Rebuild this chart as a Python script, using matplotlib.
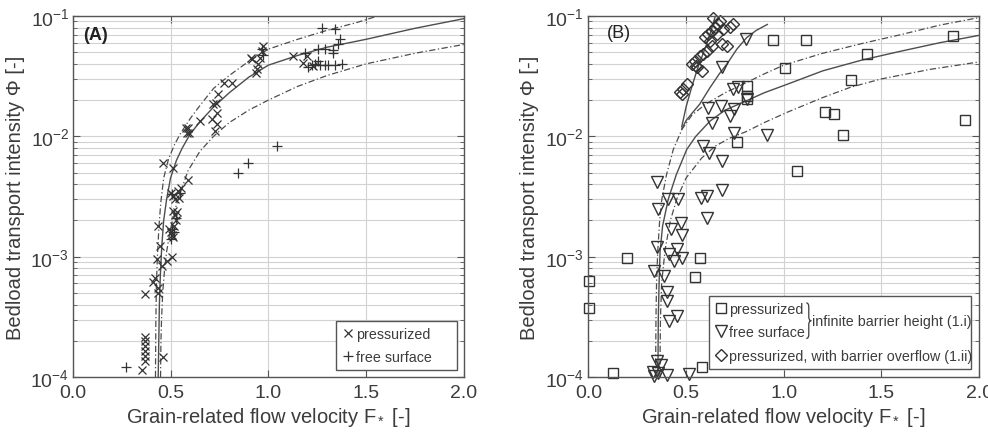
import numpy as np
import matplotlib
matplotlib.use('agg')
import matplotlib.pyplot as plt
from matplotlib.path import Path
from matplotlib.patches import PathPatch
from matplotlib.ticker import LogLocator, NullFormatter

plt.rcParams['font.family'] = ['Liberation Sans', 'DejaVu Sans']
plt.rcParams['mathtext.fontset'] = 'custom'
plt.rcParams['mathtext.rm'] = 'Liberation Sans'
plt.rcParams['mathtext.it'] = 'Liberation Sans:italic'
plt.rcParams['mathtext.bf'] = 'Liberation Sans:bold'
plt.rcParams['mathtext.default'] = 'regular'

TXT = '#3c3c3c'
EDGE = '#555555'
MK = '#333333'
LN = '#4d4d4d'
GRID = '#d2d2d2'
DASHDOT = (0, (5, 2, 1, 2))

# ---- panel A: measured points ----
A_press_F = [0.353, 0.370, 0.370, 0.372, 0.370, 0.372, 0.370, 0.463, 0.368, 0.412,
             0.420, 0.438, 0.438, 0.455, 0.429, 0.506, 0.480, 0.446, 0.438, 0.508,
             0.500, 0.515, 0.490, 0.520, 0.523, 0.530, 0.515, 0.535, 0.500, 0.515,
             0.525, 0.540, 0.545, 0.555, 0.590, 0.463, 0.514, 0.596, 0.590, 0.651,
             0.710, 0.736, 0.727, 0.719, 0.733, 0.744, 0.736, 0.773, 0.813, 0.915,
             0.957, 0.974, 0.940, 0.949, 0.966, 0.937, 0.911, 1.128, 1.175, 1.196,
             1.230, 0.578, 0.583]
A_press_phi = [1.14e-4, 2.16e-4, 1.98e-4, 1.81e-4, 1.64e-4, 1.49e-4, 1.37e-4, 1.46e-4, 4.9e-4, 6.2e-4,
               6.7e-4, 5.5e-4, 5.0e-4, 8.4e-4, 9.5e-4, 1.0e-3, 9.2e-4, 1.22e-3, 1.8e-3, 1.5e-3,
               1.6e-3, 1.45e-3, 1.7e-3, 1.8e-3, 2.2e-3, 2.0e-3, 2.4e-3, 2.35e-3, 3.4e-3, 3.2e-3,
               3.0e-3, 3.5e-3, 3.1e-3, 3.7e-3, 4.3e-3, 6.0e-3, 5.5e-3, 1.07e-2, 1.18e-2, 1.34e-2,
               1.38e-2, 1.26e-2, 1.1e-2, 1.84e-2, 1.9e-2, 2.23e-2, 1.57e-2, 2.79e-2, 2.79e-2, 4.36e-2,
               4.5e-2, 5.64e-2, 3.6e-2, 3.97e-2, 5.1e-2, 3.38e-2, 4.5e-2, 4.66e-2, 4.1e-2, 4.66e-2,
               3.84e-2, 1.17e-2, 1.07e-2]

A_free_F = [0.273, 0.847, 0.898, 1.043, 0.970, 0.975, 1.273, 1.341, 1.366, 1.358,
            1.332, 1.187, 1.256, 1.290, 1.332, 1.256, 1.204, 1.239, 1.264, 1.290,
            1.307, 1.341, 1.375, 1.225, 0.510, 0.520, 0.530, 0.500, 0.505, 0.550]
A_free_phi = [1.2e-4, 5.0e-3, 6.0e-3, 8.3e-3, 5.3e-2, 4.7e-2, 8.0e-2, 7.8e-2, 6.4e-2, 5.8e-2,
              4.97e-2, 4.96e-2, 5.3e-2, 5.3e-2, 5.2e-2, 4.2e-2, 3.8e-2, 4.0e-2, 3.9e-2, 3.95e-2,
              3.9e-2, 3.9e-2, 4.0e-2, 3.95e-2, 3.3e-3, 1.6e-3, 2.1e-3, 1.4e-3, 1.7e-3, 3.4e-3]

# ---- panel A: fitted relation with bounds ----
A_fit_F = [0.437, 0.440, 0.443, 0.448, 0.455, 0.465, 0.480, 0.500, 0.530, 0.560, 0.600,
           0.650, 0.720, 0.800, 0.900, 1.000, 1.150, 1.300, 1.500, 1.750, 2.000]
A_fit_phi = [1.0e-4, 2.0e-4, 4.0e-4, 7.0e-4, 1.2e-3, 2.0e-3, 3.0e-3, 4.5e-3, 6.3e-3, 8.0e-3, 1.04e-2,
             1.32e-2, 1.75e-2, 2.3e-2, 3.1e-2, 3.9e-2, 4.7e-2, 5.5e-2, 6.4e-2, 7.9e-2, 9.5e-2]
A_up_F = [0.423, 0.425, 0.428, 0.433, 0.440, 0.450, 0.465, 0.490, 0.520, 0.550, 0.600,
          0.650, 0.720, 0.800, 0.900, 1.000, 1.150, 1.300, 1.450, 1.560]
A_up_phi = [1.0e-4, 3.0e-4, 6.0e-4, 1.0e-3, 1.7e-3, 2.8e-3, 4.5e-3, 6.5e-3, 8.5e-3, 1.05e-2, 1.4e-2,
            1.8e-2, 2.5e-2, 3.2e-2, 4.2e-2, 5.3e-2, 6.4e-2, 7.6e-2, 8.8e-2, 1.0e-1]
A_lo_F = [0.449, 0.451, 0.454, 0.460, 0.470, 0.480, 0.500, 0.530, 0.560, 0.590, 0.650,
          0.720, 0.800, 0.900, 1.000, 1.150, 1.300, 1.500, 1.750, 2.000]
A_lo_phi = [1.0e-4, 2.0e-4, 3.0e-4, 5.0e-4, 8.0e-4, 1.1e-3, 1.7e-3, 2.7e-3, 3.8e-3, 5.2e-3, 7.5e-3,
            1.0e-2, 1.3e-2, 1.65e-2, 2.0e-2, 2.6e-2, 3.2e-2, 4.0e-2, 4.9e-2, 5.8e-2]

# ---- panel B: measured points ----
B_press_F = [0.003, 0.003, 0.128, 0.200, 0.570, 0.546, 0.584, 0.947, 1.116, 1.007,
             1.428, 1.346, 1.210, 1.258, 1.305, 1.070, 1.867, 1.927, 0.763, 0.811,
             0.814, 0.811]
B_press_phi = [6.3e-4, 3.77e-4, 1.07e-4, 9.8e-4, 9.8e-4, 6.8e-4, 1.2e-4, 6.28e-2, 6.28e-2, 3.67e-2,
               4.87e-2, 2.92e-2, 1.59e-2, 1.52e-2, 1.02e-2, 5.15e-3, 6.8e-2, 1.37e-2, 8.98e-3, 2.64e-2,
               2.18e-2, 2.04e-2]

B_free_F = [0.805, 0.683, 0.742, 0.768, 0.614, 0.677, 0.635, 0.724, 0.746, 0.746,
            0.916, 0.810, 0.587, 0.618, 0.686, 0.350, 0.357, 0.408, 0.461, 0.575,
            0.609, 0.683, 0.609, 0.473, 0.422, 0.481, 0.353, 0.456, 0.413, 0.439,
            0.478, 0.338, 0.387, 0.401, 0.404, 0.456, 0.413, 0.353, 0.370, 0.336,
            0.404, 0.515, 0.358, 0.333]
B_free_phi = [6.48e-2, 3.77e-2, 2.49e-2, 2.59e-2, 1.73e-2, 1.8e-2, 1.3e-2, 1.48e-2, 1.68e-2, 1.07e-2,
              1.02e-2, 2.04e-2, 8.3e-3, 7.3e-3, 6.2e-3, 4.2e-3, 2.5e-3, 3.0e-3, 3.0e-3, 3.1e-3,
              3.2e-3, 3.6e-3, 2.1e-3, 1.9e-3, 1.7e-3, 1.5e-3, 1.2e-3, 1.15e-3, 1.05e-3, 9.2e-4,
              9.8e-4, 7.6e-4, 6.9e-4, 5.1e-4, 4.3e-4, 3.2e-4, 2.9e-4, 1.36e-4, 1.27e-4, 1.02e-4,
              1.04e-4, 1.05e-4, 1.07e-4, 1.1e-4]

B_ovf_F = [0.469, 0.486, 0.504, 0.529, 0.546, 0.572, 0.589, 0.606, 0.614, 0.632,
           0.649, 0.665, 0.674, 0.691, 0.725, 0.742, 0.683, 0.708, 0.597, 0.623,
           0.555, 0.580, 0.640, 0.657, 0.632, 0.478, 0.549]
B_ovf_phi = [2.32e-2, 2.47e-2, 2.72e-2, 3.99e-2, 4.25e-2, 4.68e-2, 4.83e-2, 5.15e-2, 7.09e-2, 7.55e-2,
             8.05e-2, 8.6e-2, 9.14e-2, 7.8e-2, 8.05e-2, 8.6e-2, 5.85e-2, 5.66e-2, 6.65e-2, 6.24e-2,
             3.74e-2, 3.5e-2, 9.7e-2, 7.1e-2, 5.66e-2, 2.23e-2, 3.84e-2]

# ---- panel B: fitted relations ----
B_fit_F = [0.356, 0.358, 0.362, 0.367, 0.380, 0.409, 0.450, 0.504, 0.550, 0.623, 0.700,
           0.811, 0.900, 1.016, 1.200, 1.400, 1.600, 1.800, 2.000]
B_fit_phi = [1.0e-4, 3.0e-4, 6.0e-4, 1.1e-3, 1.8e-3, 3.0e-3, 4.8e-3, 7.8e-3, 1.0e-2, 1.34e-2, 1.65e-2,
             1.98e-2, 2.3e-2, 2.7e-2, 3.5e-2, 4.3e-2, 5.1e-2, 6.0e-2, 6.9e-2]
B_up_F = [0.344, 0.346, 0.349, 0.355, 0.365, 0.376, 0.400, 0.435, 0.480, 0.530, 0.600,
          0.700, 0.800, 0.900, 1.000, 1.200, 1.400, 1.600, 1.800, 2.000]
B_up_phi = [1.0e-4, 3.0e-4, 6.0e-4, 1.1e-3, 2.0e-3, 3.0e-3, 4.8e-3, 7.8e-3, 1.15e-2, 1.5e-2, 1.85e-2,
            2.3e-2, 2.75e-2, 3.3e-2, 3.9e-2, 4.9e-2, 5.9e-2, 7.0e-2, 8.4e-2, 9.7e-2]
B_lo_F = [0.366, 0.369, 0.375, 0.393, 0.420, 0.452, 0.500, 0.580, 0.650, 0.720, 0.811,
          0.900, 1.016, 1.200, 1.340, 1.500, 1.750, 2.000]
B_lo_phi = [1.0e-4, 3.0e-4, 6.0e-4, 1.15e-3, 2.0e-3, 3.0e-3, 4.5e-3, 6.6e-3, 8.3e-3, 9.6e-3, 1.1e-2,
            1.3e-2, 1.58e-2, 2.1e-2, 2.55e-2, 3.0e-2, 3.6e-2, 4.15e-2]
B_ovf_left_F = [0.478, 0.500, 0.530, 0.560, 0.590, 0.620, 0.650]
B_ovf_left_phi = [1.2e-2, 1.75e-2, 2.6e-2, 3.7e-2, 5.0e-2, 6.8e-2, 1.0e-1]
B_ovf_right_F = [0.478, 0.500, 0.530, 0.570, 0.620, 0.670, 0.710, 0.760, 0.810, 0.860, 0.916]
B_ovf_right_phi = [1.15e-2, 1.35e-2, 1.55e-2, 1.85e-2, 2.5e-2, 3.3e-2, 4.0e-2, 5.3e-2, 6.6e-2, 7.6e-2, 8.5e-2]


def style_axes(ax, ytick_pad):
    ax.set_yscale('log')
    ax.set_xlim(0, 2)
    ax.set_ylim(1e-4, 1e-1)
    ax.set_xticks([0, 0.5, 1.0, 1.5, 2.0])
    ax.set_xticklabels(['0.0', '0.5', '1.0', '1.5', '2.0'])
    ax.yaxis.set_major_locator(LogLocator(base=10, numticks=10))
    ax.yaxis.set_minor_locator(LogLocator(base=10, subs=np.arange(2, 10), numticks=10))
    ax.yaxis.set_minor_formatter(NullFormatter())
    ax.grid(True, which='major', color=GRID, lw=0.8)
    ax.grid(True, which='minor', axis='y', color=GRID, lw=0.8)
    ax.set_axisbelow(True)
    ax.tick_params(which='both', direction='in', top=True, right=True,
                   color=EDGE, labelcolor=TXT, labelsize=14)
    ax.tick_params(which='major', length=5, width=0.8)
    ax.tick_params(which='minor', length=3, width=0.6)
    ax.tick_params(axis='x', pad=5)
    ax.tick_params(axis='y', pad=ytick_pad)
    for s in ax.spines.values():
        s.set_color(EDGE)
        s.set_linewidth(1.0)
    ax.set_xlabel(r'Grain-related flow velocity F$_*$ [-]', fontsize=14.5, color=TXT, labelpad=3)
    ax.set_ylabel('Bedload transport intensity Φ [-]', fontsize=14.5, color=TXT, labelpad=4)


def legend_box(ax, handles, bbox):
    leg = ax.legend(handles=handles, loc='lower left', bbox_to_anchor=bbox, mode='expand',
                    borderaxespad=0, fontsize=10.3, fancybox=False, edgecolor=EDGE,
                    framealpha=1, handlelength=0.8, handletextpad=0.2, borderpad=0.42,
                    labelspacing=0.67, labelcolor=TXT)
    leg.get_frame().set_linewidth(1.0)
    return leg


fig = plt.figure(figsize=(9.88, 4.35), dpi=100)
axA = fig.add_axes([0.0736, 0.131, 0.396, 0.830])
axB = fig.add_axes([0.5955, 0.131, 0.3955, 0.830])

# panel A
style_axes(axA, 2.5)
axA.plot(A_up_F, A_up_phi, color=LN, lw=0.9, ls=DASHDOT)
axA.plot(A_lo_F, A_lo_phi, color=LN, lw=0.9, ls=DASHDOT)
axA.plot(A_fit_F, A_fit_phi, color=LN, lw=1.0)
hA1, = axA.plot(A_press_F, A_press_phi, ls='none', marker='x', ms=6, mew=0.9,
                color=MK, label='pressurized', clip_on=False)
hA2, = axA.plot(A_free_F, A_free_phi, ls='none', marker='+', ms=7.5, mew=0.9,
                color=MK, label='free surface', clip_on=False)
legend_box(axA, [hA1, hA2], (0.673, 0.019, 0.309, 0.153))
axA.text(0.026, 0.95, '(A)', transform=axA.transAxes, fontsize=13, fontweight='bold',
         color='#222222', ha='left', va='center')

# panel B
style_axes(axB, 3.5)
axB.plot(B_up_F, B_up_phi, color=LN, lw=0.9, ls=DASHDOT)
axB.plot(B_lo_F, B_lo_phi, color=LN, lw=0.9, ls=DASHDOT)
axB.plot(B_fit_F, B_fit_phi, color=LN, lw=1.0)
axB.plot(B_ovf_left_F, B_ovf_left_phi, color=LN, lw=1.0)
axB.plot(B_ovf_right_F, B_ovf_right_phi, color=LN, lw=1.0)
hB1, = axB.plot(B_press_F, B_press_phi, ls='none', marker='s', ms=7, mew=1.0, mfc='none',
                color=MK, label='pressurized', clip_on=False)
hB2, = axB.plot(B_free_F, B_free_phi, ls='none', marker='v', ms=8, mew=1.0, mfc='none',
                color=MK, label='free surface', clip_on=False)
hB3, = axB.plot(B_ovf_F, B_ovf_phi, ls='none', marker='D', ms=6.5, mew=1.0, mfc='none',
                color=MK, label='pressurized, with barrier overflow (1.ii)', clip_on=False)
legB = legend_box(axB, [hB1, hB2, hB3], (0.309, 0.022, 0.6705, 0.22))
axB.text(0.048, 0.955, '(B)', transform=axB.transAxes, fontsize=13,
         color='#222222', ha='left', va='center')

# brace grouping the first two legend rows
fig.canvas.draw()
renderer = fig.canvas.get_renderer()
bb0 = legB.get_texts()[0].get_window_extent(renderer)
bb1 = legB.get_texts()[1].get_window_extent(renderer)
xb = max(bb0.x1, bb1.x1) + 1
yt = bb0.y1 - 1
yb = bb1.y0 + 1
ym = 0.5 * (yt + yb)
w, r = 5.0, 4.0
xm, xt = xb + w * 0.5, xb + w
verts = [(xb, yt), (xm, yt), (xm, yt - r), (xm, ym + r), (xm, ym), (xt, ym),
         (xm, ym), (xm, ym - r), (xm, yb + r), (xm, yb), (xb, yb)]
codes = [Path.MOVETO, Path.CURVE3, Path.CURVE3, Path.LINETO, Path.CURVE3, Path.CURVE3,
         Path.CURVE3, Path.CURVE3, Path.LINETO, Path.CURVE3, Path.CURVE3]
to_axes = axB.transAxes.inverted()
brace = PathPatch(Path(to_axes.transform(verts), codes), transform=axB.transAxes,
                  fill=False, edgecolor=TXT, lw=0.9, clip_on=False, zorder=6)
axB.add_patch(brace)
tx, ty = to_axes.transform((xt + 1, ym))
axB.text(tx, ty, 'infinite barrier height (1.i)', transform=axB.transAxes, fontsize=10.3,
         color=TXT, ha='left', va='center', zorder=6)

fig.savefig('out.png', dpi=100)
